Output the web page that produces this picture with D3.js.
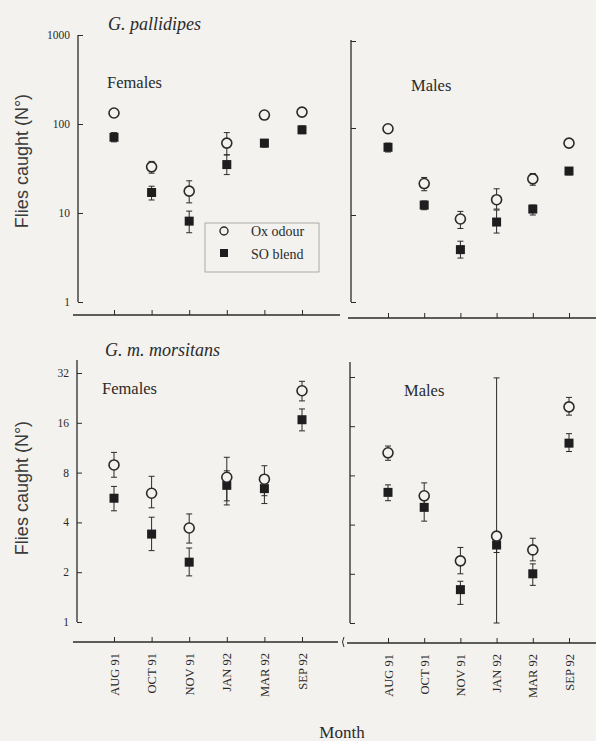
<!DOCTYPE html>
<html>
<head>
<meta charset="utf-8">
<script src="https://cdn.jsdelivr.net/npm/d3@7"></script>
<style>
  body { margin: 0; background: #f3f2ef; }
  svg { display: block; }
</style>
</head>
<body>
<svg id="chart"></svg>
<script>
const months = ["AUG 91", "OCT 91", "NOV 91", "JAN 92", "MAR 92", "SEP 92"];

// G. pallidipes, females
const gpFemOx   = [133, 33, 17.6, 61, 126, 136];
const gpFemOxLo = [120, 28, 13, 45, 115, 125];
const gpFemOxHi = [145, 38, 23, 80, 138, 148];
const gpFemSo   = [71, 17, 8.1, 35, 61, 86];
const gpFemSoLo = [63, 14, 6, 27, 55, 78];
const gpFemSoHi = [80, 20, 10.5, 45, 67, 95];

// G. pallidipes, males
const gpMalOx   = [98, 23, 9, 15, 26, 67];
const gpMalOxLo = [88, 19, 7, 11.7, 22, 62];
const gpMalOxHi = [108, 27, 11, 20, 30, 72];
const gpMalSo   = [60, 13, 4, 8.3, 11.7, 32];
const gpMalSoLo = [53, 11.5, 3.2, 6.2, 10, 29];
const gpMalSoHi = [67, 14.5, 5, 11.4, 13, 35];

// G. m. morsitans, females
const gmFemOx   = [8.9, 6.0, 3.7, 7.5, 7.3, 25];
const gmFemOxLo = [7.5, 4.9, 3.0, 5.4, 5.8, 21.7];
const gmFemOxHi = [10.6, 7.6, 4.5, 9.9, 8.8, 28.5];
const gmFemSo   = [5.6, 3.4, 2.3, 6.7, 6.4, 16.7];
const gmFemSoLo = [4.7, 2.7, 1.9, 5.1, 5.2, 14.3];
const gmFemSoHi = [6.6, 4.3, 2.8, 8.2, 7.5, 19.4];

// G. m. morsitans, males
const gmMalOx   = [11, 6.0, 2.4, 3.4, 2.8, 21];
const gmMalOxLo = [9.9, 4.9, 2.0, 1, 2.4, 18.7];
const gmMalOxHi = [12.1, 7.2, 2.9, 31.6, 3.3, 24];
const gmMalSo   = [6.3, 5.1, 1.6, 3.0, 2.0, 12.6];
const gmMalSoLo = [5.6, 4.2, 1.3, 2.7, 1.7, 11.2];
const gmMalSoHi = [7.0, 5.7, 1.8, 3.3, 2.3, 14.4];

const topTicks = [1, 10, 100, 1000];
const botTicks = [1, 2, 4, 8, 16, 32];

const W = 596, H = 741;
const bg = "#f3f2ef";
const ink = "#2a2a2a";
const serif = "'Liberation Serif', 'DejaVu Serif', serif";
const sans = "'Liberation Sans', Arial, sans-serif";

const svg = d3.select("#chart")
    .attr("width", W)
    .attr("height", H)
    .attr("viewBox", "0 0 " + W + " " + H);

svg.append("rect").attr("width", W).attr("height", H).attr("fill", bg);

const xLeft = d3.scalePoint().domain(months).range([114, 302]);
const xRight = d3.scalePoint().domain(months).range([388, 569]);

const yTopL = d3.scaleLog().domain([1, 1000]).range([302, 35]);
const yTopR = d3.scaleLog().domain([1, 1000]).range([302, 41]);
const yBotL = d3.scaleLog().base(2).domain([1, 32]).range([622, 373]);
const yBotR = d3.scaleLog().base(2).domain([1, 32]).range([623, 377]);

function yAxis(x, y, ticks, top, labels) {
    const ax = d3.axisRight(y)
        .tickValues(ticks)
        .tickSize(5)
        .tickFormat("");
    const g = svg.append("g")
        .attr("transform", "translate(" + x + ",0)")
        .call(ax);
    g.select(".domain").remove();
    g.selectAll("line").attr("stroke", ink).attr("stroke-width", 1);
    g.append("line")
        .attr("x1", 0).attr("x2", 0)
        .attr("y1", top).attr("y2", y.range()[0])
        .attr("stroke", ink).attr("stroke-width", 1.3);
    if (labels) {
        ticks.forEach(t => {
            svg.append("text")
                .attr("x", x - 8)
                .attr("y", y(t) + 4)
                .attr("text-anchor", "end")
                .attr("font-family", serif)
                .attr("font-size", 11.5)
                .attr("fill", ink)
                .text(t);
        });
    }
}

function xAxis(x, yPos, x0, x1, showLabels) {
    const ax = d3.axisTop(x).tickSize(5).tickFormat("");
    const g = svg.append("g")
        .attr("transform", "translate(0," + yPos + ")")
        .call(ax);
    g.select(".domain").remove();
    g.selectAll("line").attr("stroke", ink);
    g.append("line")
        .attr("x1", x0).attr("x2", x1)
        .attr("y1", 0).attr("y2", 0)
        .attr("stroke", ink).attr("stroke-width", 1.3);
    if (showLabels) {
        months.forEach(m => {
            svg.append("text")
                .attr("transform", "translate(" + (x(m) + 4.5) + "," + (yPos + 11) + ") rotate(-90)")
                .attr("text-anchor", "end")
                .attr("font-family", serif)
                .attr("font-size", 12.5)
                .attr("fill", ink)
                .text(m);
        });
    }
}

function errorBars(x, y, lo, hi) {
    months.forEach((m, i) => {
        const cx = x(m);
        const g = svg.append("g").attr("stroke", ink).attr("stroke-width", 1);
        g.append("line").attr("x1", cx).attr("x2", cx).attr("y1", y(lo[i])).attr("y2", y(hi[i]));
        g.append("line").attr("x1", cx - 3).attr("x2", cx + 3).attr("y1", y(lo[i])).attr("y2", y(lo[i]));
        g.append("line").attr("x1", cx - 3).attr("x2", cx + 3).attr("y1", y(hi[i])).attr("y2", y(hi[i]));
    });
}

function panel(x, y, ox, oxLo, oxHi, so, soLo, soHi) {
    errorBars(x, y, oxLo, oxHi);
    errorBars(x, y, soLo, soHi);
    svg.append("g").selectAll("rect")
        .data(so)
        .join("rect")
        .attr("x", (d, i) => x(months[i]) - 4.5)
        .attr("y", d => y(d) - 4.5)
        .attr("width", 9)
        .attr("height", 9)
        .attr("fill", "#1e1e1e");
    svg.append("g").selectAll("circle")
        .data(ox)
        .join("circle")
        .attr("cx", (d, i) => x(months[i]))
        .attr("cy", d => y(d))
        .attr("r", 5)
        .attr("fill", bg)
        .attr("stroke", ink)
        .attr("stroke-width", 1.6);
}

function label(x, y, txt, size, italic, family) {
    svg.append("text")
        .attr("x", x).attr("y", y)
        .attr("font-family", family || serif)
        .attr("font-size", size)
        .attr("font-style", italic ? "italic" : "normal")
        .attr("fill", ink)
        .text(txt);
}

// axes
yAxis(78, yTopL, topTicks, 35, true);
yAxis(351, yTopR, topTicks, 40, false);
yAxis(77, yBotL, botTicks, 360, true);
yAxis(350, yBotR, botTicks, 362, false);

xAxis(xLeft, 315, 73, 340, false);
xAxis(xRight, 318, 348, 596, false);
xAxis(xLeft, 642, 73, 338, true);
xAxis(xRight, 643, 347, 596, true);

// axis break mark on the lower axis
svg.append("path")
    .attr("d", "M 344 637 Q 341 642 344 647")
    .attr("fill", "none")
    .attr("stroke", ink)
    .attr("stroke-width", 1);

// data
panel(xLeft, yTopL, gpFemOx, gpFemOxLo, gpFemOxHi, gpFemSo, gpFemSoLo, gpFemSoHi);
panel(xRight, yTopR, gpMalOx, gpMalOxLo, gpMalOxHi, gpMalSo, gpMalSoLo, gpMalSoHi);
panel(xLeft, yBotL, gmFemOx, gmFemOxLo, gmFemOxHi, gmFemSo, gmFemSoLo, gmFemSoHi);
panel(xRight, yBotR, gmMalOx, gmMalOxLo, gmMalOxHi, gmMalSo, gmMalSoLo, gmMalSoHi);

// titles and panel labels
label(108, 30, "G. pallidipes", 18, true);
label(105, 356, "G. m. morsitans", 18, true);
label(107, 88, "Females", 16.5, false);
label(411, 91, "Males", 16.5, false);
label(102, 394, "Females", 16.5, false);
label(404, 396, "Males", 16.5, false);

// y-axis titles
[161, 488].forEach(cy => {
    svg.append("text")
        .attr("transform", "translate(28," + cy + ") rotate(-90)")
        .attr("text-anchor", "middle")
        .attr("font-family", sans)
        .attr("font-size", 18)
        .attr("fill", "#3a3a3a")
        .text("Flies caught (N\u00B0)");
});

// x-axis title
svg.append("text")
    .attr("x", 342).attr("y", 738)
    .attr("text-anchor", "middle")
    .attr("font-family", serif)
    .attr("font-size", 17)
    .attr("fill", ink)
    .text("Month");

// legend
const lg = svg.append("g");
lg.append("rect")
    .attr("x", 205).attr("y", 223)
    .attr("width", 114).attr("height", 49)
    .attr("fill", bg)
    .attr("stroke", "#9a9a9a")
    .attr("stroke-width", 0.8);
lg.append("circle")
    .attr("cx", 224).attr("cy", 231).attr("r", 4)
    .attr("fill", bg).attr("stroke", ink).attr("stroke-width", 1.4);
lg.append("rect")
    .attr("x", 220).attr("y", 249).attr("width", 8).attr("height", 8)
    .attr("fill", "#1e1e1e");
lg.append("text").attr("x", 251).attr("y", 236)
    .attr("font-family", serif).attr("font-size", 14).attr("fill", ink)
    .text("Ox odour");
lg.append("text").attr("x", 251).attr("y", 259)
    .attr("font-family", serif).attr("font-size", 14).attr("fill", ink)
    .text("SO blend");
</script>
</body>
</html>
